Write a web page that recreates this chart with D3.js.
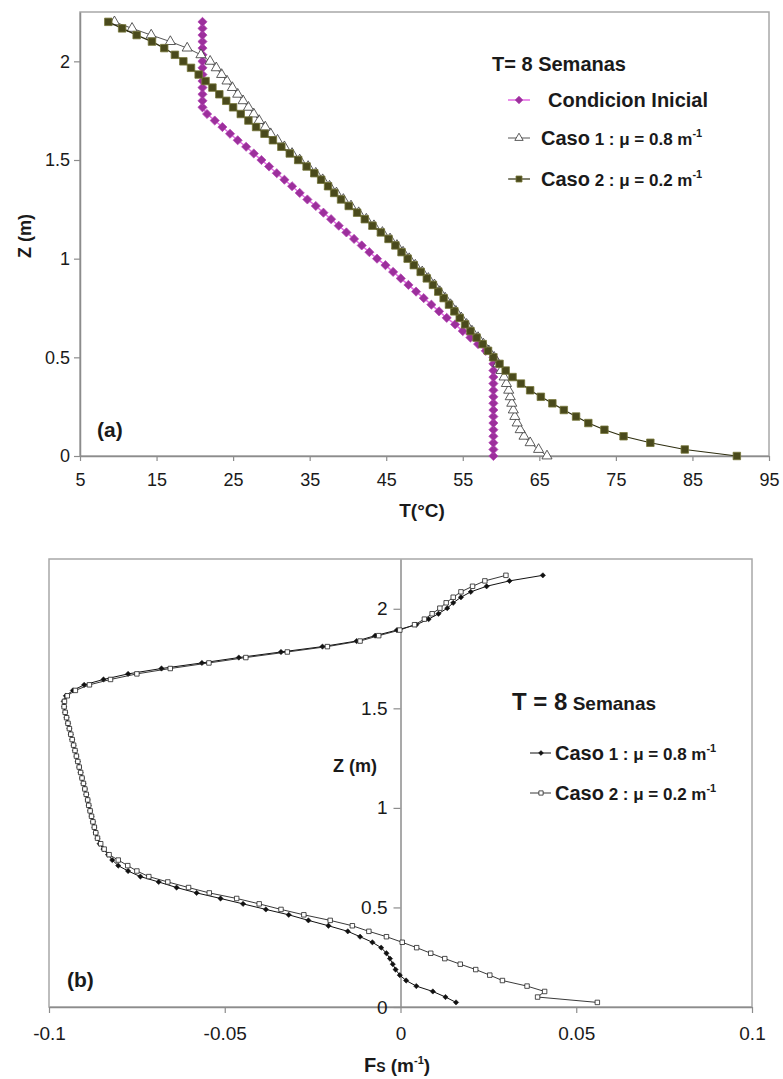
<!DOCTYPE html>
<html>
<head>
<meta charset="utf-8">
<script src="https://cdn.jsdelivr.net/npm/d3@7"></script>
<style>
body { margin: 0; background: #fff; }
svg text { font-family: "Liberation Sans", Arial, sans-serif; fill: #1a1a1a; }
</style>
</head>
<body>
<div id="chart"></div>
<script>
// ----------------------------------------
// DATA

// (a) depth grid and temperature profiles, T = 8 semanas
var tempZ = [0, 0.033, 0.067, 0.1, 0.133, 0.167, 0.2, 0.233, 0.267, 0.3, 0.333, 0.367, 0.4, 0.433, 0.467,
	0.5, 0.533, 0.567, 0.6, 0.633, 0.667, 0.7, 0.733, 0.767, 0.8, 0.833, 0.867, 0.9, 0.933, 0.967,
	1, 1.033, 1.067, 1.1, 1.133, 1.167, 1.2, 1.233, 1.267, 1.3, 1.333, 1.367, 1.4, 1.433, 1.467,
	1.5, 1.533, 1.567, 1.6, 1.633, 1.667, 1.7, 1.733, 1.767, 1.8, 1.833, 1.867, 1.9, 1.933, 1.967,
	2, 2.033, 2.067, 2.1, 2.133, 2.167, 2.2];

var tempInicial = [59, 59, 59, 59, 59, 59, 59, 59, 59, 59, 59, 59, 59, 59, 59,
	59.0, 58.0, 57.0, 56.0, 55.0, 54.0, 52.9, 51.9, 50.9, 49.9, 48.9, 47.9, 46.9, 45.9, 44.9,
	43.8, 42.8, 41.8, 40.8, 39.8, 38.8, 37.8, 36.8, 35.8, 34.7, 33.7, 32.7, 31.7, 30.7, 29.7,
	28.7, 27.7, 26.7, 25.6, 24.6, 23.6, 22.6, 21.6, 21, 21, 21, 21, 21, 21, 21,
	21, 21, 21, 21, 21, 21, 21];

var tempCaso1 = [66.0, 64.9, 63.8, 63.0, 62.5, 62.1, 61.8, 61.6, 61.4, 61.2, 61.0, 60.7, 60.4, 60.0, 59.6,
	59.1, 58.4, 57.7, 57.0, 56.2, 55.5, 54.8, 54.1, 53.4, 52.7, 52.0, 51.3, 50.5, 49.7, 48.8,
	48.0, 47.2, 46.4, 45.5, 44.5, 43.4, 42.4, 41.4, 40.4, 39.4, 38.5, 37.6, 36.7, 35.8, 34.8,
	33.7, 32.7, 31.7, 30.8, 29.9, 29.2, 28.4, 27.7, 27.0, 26.3, 25.6, 24.9, 24.2, 23.5, 22.8,
	22.0, 20.8, 19.0, 16.8, 14.3, 11.8, 9.5];

var tempCaso2 = [90.8, 84.0, 79.5, 76.0, 73.5, 71.4, 69.8, 68.2, 66.7, 65.2, 63.8, 62.6, 61.5, 60.6, 59.8,
	59.0, 58.3, 57.6, 56.8, 56.0, 55.3, 54.6, 53.9, 53.2, 52.5, 51.8, 51.1, 50.3, 49.5, 48.6,
	47.8, 47.0, 46.2, 45.3, 44.3, 43.2, 42.2, 41.2, 40.1, 39.1, 38.2, 37.4, 36.5, 35.6, 34.6,
	33.5, 32.4, 31.3, 30.2, 29.1, 28.0, 27.0, 26.0, 25.0, 24.1, 23.2, 22.3, 21.4, 20.5, 19.5,
	18.5, 17.4, 16.0, 14.4, 12.4, 10.5, 8.7];

// (b) depth grid and Fs profiles
var fsZ = [0.023, 0.050, 0.078, 0.105, 0.133, 0.160, 0.188, 0.215, 0.243, 0.270,
	0.298, 0.325, 0.353, 0.380, 0.408, 0.435, 0.463, 0.490, 0.518, 0.545,
	0.573, 0.600, 0.628, 0.655, 0.683, 0.710, 0.738, 0.765, 0.793, 0.820,
	0.848, 0.875, 0.903, 0.930, 0.958, 0.985, 1.013, 1.040, 1.068, 1.095,
	1.123, 1.150, 1.178, 1.205, 1.233, 1.260, 1.288, 1.315, 1.343, 1.370,
	1.398, 1.425, 1.453, 1.480, 1.508, 1.535, 1.563, 1.590, 1.618, 1.645,
	1.673, 1.700, 1.728, 1.755, 1.783, 1.810, 1.838, 1.865, 1.893, 1.920,
	1.948, 1.975, 2.003, 2.030, 2.058, 2.085, 2.113, 2.140, 2.168];

var fsCaso1 = [0.0158, 0.0128, 0.0092, 0.0045, 0.0016, -0.0002, -0.0014, -0.0022, -0.0030, -0.0040,
	-0.0055, -0.0080, -0.0115, -0.0150, -0.0205, -0.0262, -0.0318, -0.0383, -0.0448, -0.0512,
	-0.0580, -0.0637, -0.0688, -0.0740, -0.0775, -0.0803, -0.0820, -0.0832, -0.0845, -0.0856,
	-0.0862, -0.0867, -0.0871, -0.0875, -0.0879, -0.0883, -0.0887, -0.0890, -0.0894, -0.0898,
	-0.0902, -0.0906, -0.0910, -0.0914, -0.0918, -0.0922, -0.0926, -0.0930, -0.0934, -0.0938,
	-0.0942, -0.0946, -0.0950, -0.0954, -0.0957, -0.0958, -0.0952, -0.0932, -0.0900, -0.0845,
	-0.0775, -0.0680, -0.0565, -0.0460, -0.0340, -0.0222, -0.0125, -0.0072, -0.0010, 0.0045,
	0.0080, 0.0108, 0.0133, 0.0150, 0.0172, 0.0200, 0.0245, 0.0310, 0.0405];

var fsCaso2 = [0.0560, 0.0390, 0.0410, 0.0360, 0.0290, 0.0254, 0.0214, 0.0170, 0.0126, 0.0086,
	0.0046, 0.0005, -0.0040, -0.0090, -0.0137, -0.0200, -0.0275, -0.0340, -0.0402, -0.0466,
	-0.0544, -0.0603, -0.0662, -0.0716, -0.0750, -0.0776, -0.0803, -0.0829, -0.0843, -0.0853,
	-0.0862, -0.0867, -0.0871, -0.0875, -0.0879, -0.0883, -0.0887, -0.0890, -0.0894, -0.0898,
	-0.0902, -0.0906, -0.0910, -0.0914, -0.0918, -0.0922, -0.0926, -0.0930, -0.0934, -0.0938,
	-0.0942, -0.0946, -0.0950, -0.0954, -0.0957, -0.0956, -0.0948, -0.0925, -0.0885, -0.0825,
	-0.0750, -0.0655, -0.0545, -0.0440, -0.0322, -0.0208, -0.0115, -0.0062, -0.0002, 0.0040,
	0.0068, 0.0090, 0.0112, 0.0130, 0.0150, 0.0172, 0.0205, 0.0240, 0.0300];

// ticks
var tTicks = [5, 15, 25, 35, 45, 55, 65, 75, 85, 95];
var zTicks = [0, 0.5, 1, 1.5, 2];
var fsTicks = [-0.1, -0.05, 0, 0.05, 0.1];

// ----------------------------------------
// SETUP

var width = 783;
var height = 1079;

var svg = d3.select("#chart").append("svg")
	.attr("width", width)
	.attr("height", height);

function pairs(zs, vs) {
	return zs.map(function (z, i) { return { z: z, v: vs[i] }; });
}

function styleAxis(g, size) {
	g.select(".domain").attr("stroke", "#8c8c8c").attr("stroke-width", 1.5);
	g.selectAll(".tick line").attr("stroke", "#8c8c8c").attr("stroke-width", 1.2);
	g.selectAll(".tick text").attr("font-size", size).attr("fill", "#222");
}

function drawMarkers(parent, data, x, y, shape, size, rot, fill, stroke, sw) {
	parent.append("g").selectAll("path")
		.data(data)
		.join("path")
		.attr("d", d3.symbol(shape, size))
		.attr("transform", function (d) { return "translate(" + x(d.v) + "," + y(d.z) + ") rotate(" + rot + ")"; })
		.attr("fill", fill)
		.attr("stroke", stroke)
		.attr("stroke-width", sw);
}

function legendMarker(x, y, shape, size, rot, fill, stroke, sw) {
	svg.append("path")
		.attr("d", d3.symbol(shape, size))
		.attr("transform", "translate(" + x + "," + y + ") rotate(" + rot + ")")
		.attr("fill", fill)
		.attr("stroke", stroke)
		.attr("stroke-width", sw);
}

function casoLabel(x, y, num, mu) {
	var t = svg.append("text").attr("x", x).attr("y", y).attr("font-weight", "bold");
	t.append("tspan").attr("font-size", 20).text("Caso");
	t.append("tspan").attr("font-size", 17).text(" " + num + " : \u03bc = " + mu + " m");
	t.append("tspan").attr("font-size", 11).attr("dy", -8).text("-1");
}

// ----------------------------------------
// (a) TEMPERATURE PANEL

var xT = d3.scaleLinear().domain([5, 95]).range([80, 769]);
var yT = d3.scaleLinear().domain([0, 2.25]).range([456, 12]);

svg.append("rect")
	.attr("x", xT(5)).attr("y", yT(2.25))
	.attr("width", xT(95) - xT(5)).attr("height", yT(0) - yT(2.25))
	.attr("fill", "none").attr("stroke", "#a8a8a8").attr("stroke-width", 1.5);

svg.append("g")
	.attr("transform", "translate(0," + yT(0) + ")")
	.call(d3.axisBottom(xT).tickValues(tTicks).tickSize(5).tickSizeOuter(0).tickPadding(12))
	.call(styleAxis, 18);

svg.append("g")
	.attr("transform", "translate(" + xT(5) + ",0)")
	.call(d3.axisLeft(yT).tickValues(zTicks).tickSize(6).tickSizeOuter(0).tickPadding(4).tickFormat(function (d) { return String(d); }))
	.call(styleAxis, 18);

var lineT = d3.line()
	.x(function (d) { return xT(d.v); })
	.y(function (d) { return yT(d.z); });

var dInicial = pairs(tempZ, tempInicial);
var dCaso1 = pairs(tempZ, tempCaso1);
var dCaso2 = pairs(tempZ, tempCaso2);

svg.append("path").attr("d", lineT(dInicial)).attr("fill", "none").attr("stroke", "#e46ae4").attr("stroke-width", 1.5);
drawMarkers(svg, dInicial, xT, yT, d3.symbolSquare, 42, 45, "#9c2f9c", "#b446b4", 0.7);

svg.append("path").attr("d", lineT(dCaso1)).attr("fill", "none").attr("stroke", "#555").attr("stroke-width", 1);
drawMarkers(svg, dCaso1, xT, yT, d3.symbolTriangle, 44, 0, "#fff", "#333", 0.8);

svg.append("path").attr("d", lineT(dCaso2)).attr("fill", "none").attr("stroke", "#2e2e10").attr("stroke-width", 1.2);
drawMarkers(svg, dCaso2, xT, yT, d3.symbolSquare, 56, 0, "#4a4a1c", "#76763a", 0.8);

// axis titles
svg.append("text")
	.attr("x", 422).attr("y", 517)
	.attr("text-anchor", "middle").attr("font-size", 19).attr("font-weight", "bold")
	.text("T(\u00b0C)");

svg.append("text")
	.attr("transform", "translate(25,236) rotate(-90)")
	.attr("dy", "0.35em")
	.attr("text-anchor", "middle").attr("font-size", 18).attr("font-weight", "bold")
	.text("Z (m)");

svg.append("text")
	.attr("x", 97).attr("y", 437)
	.attr("font-size", 21).attr("font-weight", "bold")
	.text("(a)");

// legend (a)
svg.append("text")
	.attr("x", 492).attr("y", 71)
	.attr("font-size", 20).attr("font-weight", "bold")
	.text("T= 8 Semanas");

svg.append("line").attr("x1", 508).attr("x2", 530).attr("y1", 100).attr("y2", 100).attr("stroke", "#e46ae4").attr("stroke-width", 1.5);
legendMarker(519, 100, d3.symbolSquare, 30, 45, "#9c2f9c", "#b446b4", 0.7);
svg.append("text")
	.attr("x", 548).attr("y", 107)
	.attr("font-size", 20).attr("font-weight", "bold")
	.text("Condicion Inicial");

svg.append("line").attr("x1", 508).attr("x2", 530).attr("y1", 138).attr("y2", 138).attr("stroke", "#555").attr("stroke-width", 1);
legendMarker(519, 138, d3.symbolTriangle, 30, 0, "#fff", "#333", 0.8);
casoLabel(541, 145, 1, "0.8");

svg.append("line").attr("x1", 508).attr("x2", 530).attr("y1", 179).attr("y2", 179).attr("stroke", "#2e2e10").attr("stroke-width", 1.2);
legendMarker(519, 179, d3.symbolSquare, 36, 0, "#4a4a1c", "#76763a", 0.8);
casoLabel(541, 186, 2, "0.2");

// ----------------------------------------
// (b) FS PANEL

var xF = d3.scaleLinear().domain([-0.1, 0.1]).range([49, 752]);
var yF = d3.scaleLinear().domain([0, 2.25]).range([1007, 559]);

svg.append("rect")
	.attr("x", xF(-0.1)).attr("y", yF(2.25))
	.attr("width", xF(0.1) - xF(-0.1)).attr("height", yF(0) - yF(2.25))
	.attr("fill", "none").attr("stroke", "#a8a8a8").attr("stroke-width", 1.5);

svg.append("g")
	.attr("transform", "translate(0," + yF(0) + ")")
	.call(d3.axisBottom(xF).tickValues(fsTicks).tickSize(6).tickSizeOuter(0).tickPadding(14).tickFormat(function (d) { return String(d); }))
	.call(styleAxis, 19);

svg.append("g")
	.attr("transform", "translate(" + xF(0) + ",0)")
	.call(d3.axisLeft(yF).tickValues(zTicks).tickSize(7).tickSizeOuter(0).tickPadding(6).tickFormat(function (d) { return String(d); }))
	.call(styleAxis, 19);

var lineF = d3.line()
	.x(function (d) { return xF(d.v); })
	.y(function (d) { return yF(d.z); });

var dFs1 = pairs(fsZ, fsCaso1);
var dFs2 = pairs(fsZ, fsCaso2);

svg.append("path").attr("d", lineF(dFs1)).attr("fill", "none").attr("stroke", "#111").attr("stroke-width", 1);
drawMarkers(svg, dFs1, xF, yF, d3.symbolSquare, 14, 45, "#111", "#111", 0.5);

svg.append("path").attr("d", lineF(dFs2)).attr("fill", "none").attr("stroke", "#222").attr("stroke-width", 0.9);
drawMarkers(svg, dFs2, xF, yF, d3.symbolSquare, 20, 0, "#fff", "#222", 0.8);

// axis titles
var fsTitle = svg.append("text")
	.attr("x", 397).attr("y", 1072)
	.attr("text-anchor", "middle").attr("font-weight", "bold");
fsTitle.append("tspan").attr("font-size", 20).text("F");
fsTitle.append("tspan").attr("font-size", 14).text("S");
fsTitle.append("tspan").attr("font-size", 19).text(" (m");
fsTitle.append("tspan").attr("font-size", 11).attr("dy", -8).text("-1");
fsTitle.append("tspan").attr("font-size", 19).attr("dy", 8).text(")");

svg.append("text")
	.attr("x", 333).attr("y", 772)
	.attr("font-size", 18).attr("font-weight", "bold")
	.text("Z (m)");

svg.append("text")
	.attr("x", 67).attr("y", 987)
	.attr("font-size", 21).attr("font-weight", "bold")
	.text("(b)");

// legend (b)
var tTitle = svg.append("text")
	.attr("x", 512).attr("y", 710)
	.attr("font-weight", "bold");
tTitle.append("tspan").attr("font-size", 24).text("T = 8");
tTitle.append("tspan").attr("font-size", 19).text(" Semanas");

svg.append("line").attr("x1", 530).attr("x2", 551).attr("y1", 753).attr("y2", 753).attr("stroke", "#111").attr("stroke-width", 1);
legendMarker(541, 753, d3.symbolSquare, 12, 45, "#111", "#111", 0.5);
casoLabel(555, 760, 1, "0.8");

svg.append("line").attr("x1", 530).attr("x2", 551).attr("y1", 793).attr("y2", 793).attr("stroke", "#222").attr("stroke-width", 0.9);
legendMarker(541, 793, d3.symbolSquare, 18, 0, "#fff", "#222", 0.8);
casoLabel(555, 800, 2, "0.2");
</script>
</body>
</html>
